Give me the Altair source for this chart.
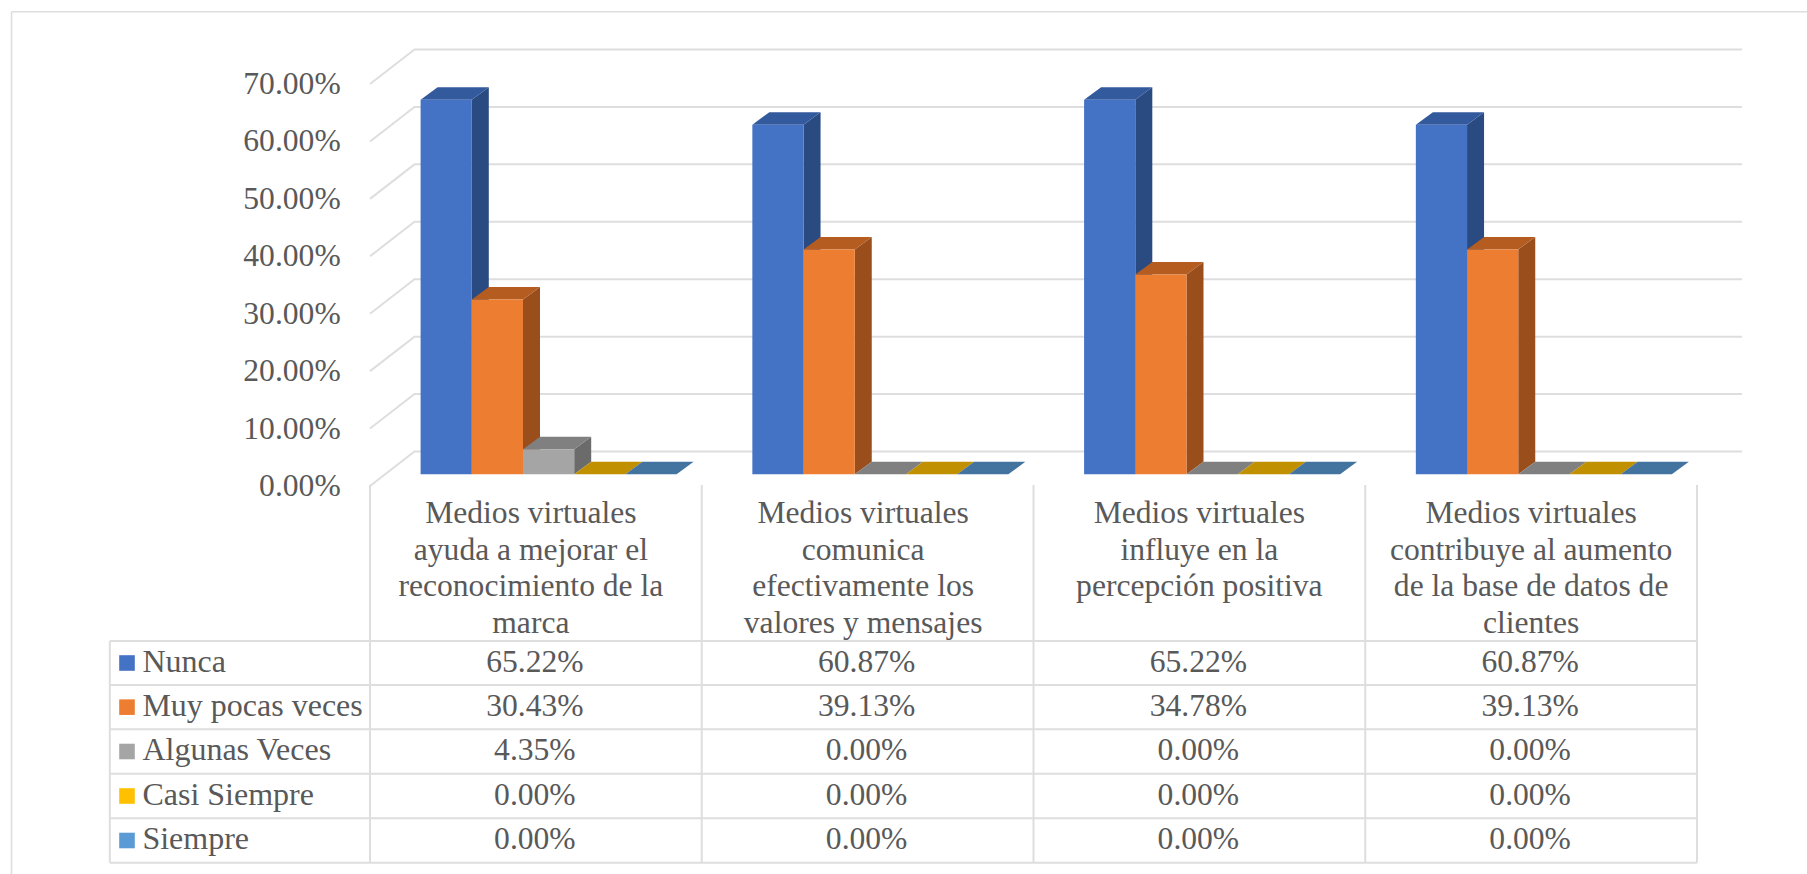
import altair as alt
import pandas as pd

# ---- chart values -------------------------------------------------------
CATEGORIES = [
    "Medios virtuales\nayuda a mejorar el\nreconocimiento de la\nmarca",
    "Medios virtuales\ncomunica\nefectivamente los\nvalores y mensajes",
    "Medios virtuales\ninfluye en la\npercepción positiva",
    "Medios virtuales\ncontribuye al aumento\nde la base de datos de\nclientes",
]
SERIES = ["Nunca", "Muy pocas veces", "Algunas Veces", "Casi Siempre", "Siempre"]
NUNCA = [65.22, 60.87, 65.22, 60.87]
MUY_POCAS = [30.43, 39.13, 34.78, 39.13]
ALGUNAS = [4.35, 0.00, 0.00, 0.00]
CASI_SIEMPRE = [0.00, 0.00, 0.00, 0.00]
SIEMPRE = [0.00, 0.00, 0.00, 0.00]
TICKS = [0, 10, 20, 30, 40, 50, 60, 70]

# ---- face colours of the pseudo-3D columns ------------------------------
FRONT = ["#4472C4", "#ED7D31", "#A5A5A5", "#FFC000", "#5B9BD5"]
SIDE = ["#2A4A82", "#9A4E1C", "#6B6B6B", "#A07A00", "#3A6A96"]
TOP = ["#345A9E", "#B55C20", "#808080", "#C09000", "#43739F"]

TEXT = "#595959"
LINE = "#DEDEDE"
SERIF = "Liberation Serif"
FONT_SIZE = 31.6

# ---- layout, in pixels and axis units -----------------------------------
LEFT, TOP_PAD, PLOT_W, PLOT_H = 370, 84, 1327, 402
RIGHT_PAD, BOTTOM_PAD = 1807 - LEFT - PLOT_W, 874 - TOP_PAD - PLOT_H
UNIT_X = PLOT_W / 4
UNIT_Y = PLOT_H / 70

WALL_DX, WALL_DY = 44.5 / UNIT_X, 34.5 / UNIT_Y
GRID_END = (1742 - LEFT) / UNIT_X
BAR_START, BAR_W = 50.6 / UNIT_X, 51.2 / UNIT_X
BAR_DX, BAR_DY = 17 / UNIT_X, 12.6 / UNIT_Y
BASE = 11.7 / UNIT_Y

ROW_LINES = [641, 685, 729.3, 773.7, 818.3, 862.7]
TABLE_LEFT = 109.8 - LEFT
COLUMN_TOP = 485
HEADER_BASELINE = 523
HEADER_SHIFT = [-5, -4.5, 0, 0]
TICK_LABEL_RIGHT = 340.7 - LEFT


def y_of(page_y):
    """Axis value sitting at a given vertical page position."""
    return (TOP_PAD + PLOT_H - page_y) / UNIT_Y


x_scale = alt.Scale(domain=[0, 4], nice=False, zero=False)
y_scale = alt.Scale(domain=[0, 70], nice=False, zero=False)

values = [NUNCA, MUY_POCAS, ALGUNAS, CASI_SIEMPRE, SIEMPRE]

# ---- tables derived from the values -------------------------------------
fronts, sides, tops, cells = [], [], [], []
for s, name in enumerate(SERIES):
    row_mid = y_of((ROW_LINES[s] + ROW_LINES[s + 1]) / 2)
    for c, cat in enumerate(CATEGORIES):
        v = values[s][c]
        left = c + BAR_START + s * BAR_W
        right = left + BAR_W
        key = f"{s}-{c}"
        fronts.append(dict(x=left, x2=right, y=v + BASE, y2=BASE, color=FRONT[s]))
        for t in (0, 1):
            sides.append(dict(key=key, x=right + t * BAR_DX,
                              y=v + BASE + t * BAR_DY, y2=BASE + t * BAR_DY,
                              color=SIDE[s]))
            tops.append(dict(key=key, y=v + BASE + t * BAR_DY,
                             x=left + t * BAR_DX, x2=right + t * BAR_DX,
                             color=TOP[s]))
        cells.append(dict(x=c + 0.5 - 1 / UNIT_X, y=row_mid, label=f"{v:.2f}%"))

grid = []
for tick in TICKS:
    grid.append(dict(tick=tick, step=0, x=0, y=tick))
    grid.append(dict(tick=tick, step=1, x=WALL_DX, y=tick + WALL_DY))
    grid.append(dict(tick=tick, step=2, x=GRID_END, y=tick + WALL_DY))

legend = pd.DataFrame([
    dict(label=name, color=FRONT[s], y=y_of((ROW_LINES[s] + ROW_LINES[s + 1]) / 2))
    for s, name in enumerate(SERIES)
])
headers = pd.DataFrame([
    dict(x=c + 0.5 + HEADER_SHIFT[c] / UNIT_X, y=y_of(HEADER_BASELINE), label=cat)
    for c, cat in enumerate(CATEGORIES)
])
columns = pd.DataFrame({"x": [0, 1, 2, 3, 4], "y": y_of(COLUMN_TOP), "y2": y_of(ROW_LINES[-1])})
rows = pd.DataFrame({"y": [y_of(r) for r in ROW_LINES]})
tick_labels = pd.DataFrame({"y": TICKS, "label": [f"{t:.2f}%" for t in TICKS]})
placeholder = pd.DataFrame({"a": [0]})

X = lambda f: alt.X(f, scale=x_scale, axis=None)
Y = lambda f: alt.Y(f, scale=y_scale, axis=None)
FILL = alt.Color("color:N", scale=None, legend=None)

# ---- back wall and front-wall gridlines, with their value labels --------
grid_layer = alt.Chart(pd.DataFrame(grid)).mark_line(color=LINE, strokeWidth=2).encode(
    x=X("x:Q"), y=Y("y:Q"), detail="tick:Q", order="step:Q",
)
tick_text = alt.Chart(tick_labels).mark_text(
    align="right", baseline="middle", dy=1,
    font=SERIF, fontSize=FONT_SIZE, color=TEXT,
).encode(x=alt.value(TICK_LABEL_RIGHT), y=Y("y:Q"), text="label:N")

# ---- columns: side faces, then top faces, then fronts -------------------
side_layer = alt.Chart(pd.DataFrame(sides)).mark_area(orient="vertical").encode(
    x=X("x:Q"), y=Y("y:Q"), y2="y2:Q", detail="key:N", color=FILL,
)
top_layer = alt.Chart(pd.DataFrame(tops)).mark_area(orient="horizontal").encode(
    y=Y("y:Q"), x=X("x:Q"), x2="x2:Q", detail="key:N", color=FILL,
)
front_layer = alt.Chart(pd.DataFrame(fronts)).mark_rect().encode(
    x=X("x:Q"), x2="x2:Q", y=Y("y:Q"), y2="y2:Q", color=FILL,
)

# ---- data table below the plot ------------------------------------------
column_rules = alt.Chart(columns).mark_rule(color=LINE, strokeWidth=2).encode(
    x=X("x:Q"), y=Y("y:Q"), y2="y2:Q",
)
row_rules = alt.Chart(rows).mark_rule(color=LINE, strokeWidth=2).encode(
    x=alt.value(TABLE_LEFT), x2=alt.value(PLOT_W), y=Y("y:Q"),
)
left_edge = alt.Chart(placeholder).mark_rule(color=LINE, strokeWidth=2).encode(
    x=alt.value(TABLE_LEFT),
    y=alt.value(ROW_LINES[0] - TOP_PAD),
    y2=alt.value(ROW_LINES[-1] - TOP_PAD),
)
header_text = alt.Chart(headers).mark_text(
    align="center", baseline="alphabetic", lineBreak="\n", lineHeight=36.7,
    font=SERIF, fontSize=FONT_SIZE, color=TEXT,
).encode(x=X("x:Q"), y=Y("y:Q"), text="label:N")
cell_text = alt.Chart(pd.DataFrame(cells)).mark_text(
    align="center", baseline="middle", dy=-0.5,
    font=SERIF, fontSize=FONT_SIZE, color=TEXT,
).encode(x=X("x:Q"), y=Y("y:Q"), text="label:N")
legend_text = alt.Chart(legend).mark_text(
    align="left", baseline="middle", dy=-1.5, font=SERIF, fontSize=32, color=TEXT,
).encode(x=alt.value(142.4 - LEFT), y=Y("y:Q"), text="label:N")
legend_swatch = alt.Chart(legend).mark_square(size=243, opacity=1, strokeWidth=0).encode(
    x=alt.value(127 - LEFT), y=Y("y:Q"), color=FILL,
)

# ---- outer frame, open towards the right and the bottom -----------------
frame_top = alt.Chart(placeholder).mark_rule(color=LINE, strokeWidth=1.6).encode(
    x=alt.value(11.5 - LEFT), x2=alt.value(1807 - LEFT), y=alt.value(11.7 - TOP_PAD),
)
frame_left = alt.Chart(placeholder).mark_rule(color=LINE, strokeWidth=1.6).encode(
    x=alt.value(11.5 - LEFT), y=alt.value(11.7 - TOP_PAD), y2=alt.value(874 - TOP_PAD),
)

chart = alt.layer(
    frame_top, frame_left, grid_layer, tick_text, side_layer, top_layer, front_layer,
    column_rules, row_rules, left_edge,
    header_text, cell_text, legend_swatch, legend_text,
).properties(
    width=PLOT_W,
    height=PLOT_H,
    padding={"left": LEFT, "top": TOP_PAD, "right": RIGHT_PAD, "bottom": BOTTOM_PAD},
    autosize=alt.AutoSizeParams(type="none", contains="content"),
    background="white",
).configure_view(stroke=None)

chart.save("out.html", embed_options={"renderer": "svg", "actions": False})
